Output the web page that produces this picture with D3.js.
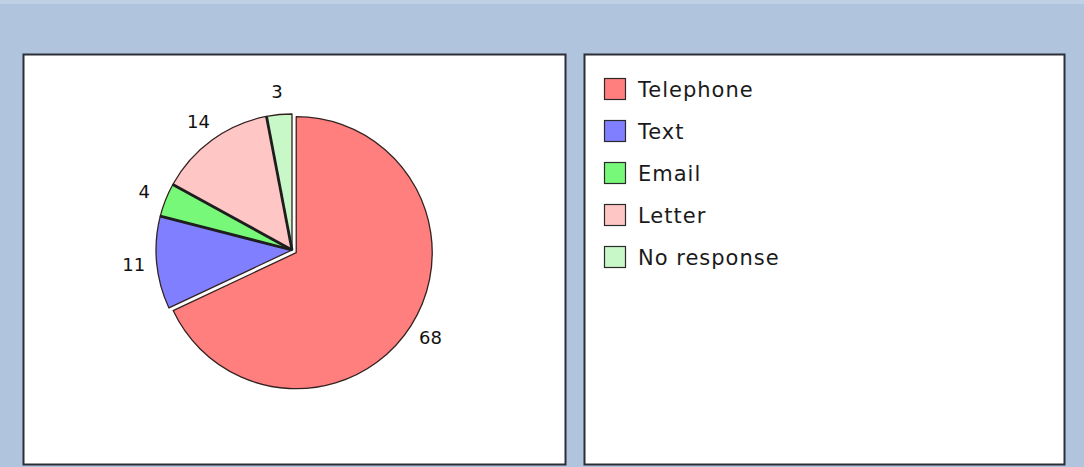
<!DOCTYPE html>
<html>
<head>
<meta charset="utf-8">
<script src="https://cdn.jsdelivr.net/npm/d3@7"></script>
<style>
  html, body { margin: 0; padding: 0; background: #b0c4de; }
  svg { display: block; }
</style>
</head>
<body>
<svg id="chart" width="1084" height="467"></svg>
<script>
// Survey: preferred contact method
const categories = ["Telephone", "Text", "Email", "Letter", "No response"];
const values = [68, 11, 4, 14, 3];
const colors = ["#ff7f7f", "#7f7fff", "#78f878", "#ffc6c6", "#c8f8c8"];
const explode = [5, 0, 0, 0, 0];

const W = 1084, H = 467;
const svg = d3.select("#chart");

// backdrop
svg.append("rect").attr("width", W).attr("height", H).attr("fill", "#b0c4de");
svg.append("rect").attr("width", W).attr("height", 4).attr("fill", "#c0d0e5");

// two framed panels
const panels = [
  { x: 23.5, y: 54.5, w: 542, h: 410 },
  { x: 584.5, y: 54.5, w: 480, h: 410 }
];
svg.selectAll("rect.panel").data(panels).join("rect")
  .attr("class", "panel")
  .attr("x", d => d.x).attr("y", d => d.y)
  .attr("width", d => d.w).attr("height", d => d.h)
  .attr("fill", "#ffffff")
  .attr("stroke", "#2a2f36").attr("stroke-width", 2);

// pie
const cx = 292, cy = 250, R = 136, labelR = 159;
const pie = d3.pie().sort(null).value(d => d.value);
const arcs = pie(categories.map((c, i) => ({ name: c, value: values[i], color: colors[i], explode: explode[i] })));
const arc = d3.arc().innerRadius(0).outerRadius(R);
const labelArc = d3.arc().innerRadius(labelR).outerRadius(labelR);

function offset(d) {
  const mid = (d.startAngle + d.endAngle) / 2;
  return [Math.sin(mid) * d.data.explode, -Math.cos(mid) * d.data.explode];
}

const g = svg.append("g").attr("transform", `translate(${cx},${cy})`);

const slices = g.selectAll("g.slice").data(arcs).join("g")
  .attr("class", "slice")
  .attr("transform", d => { const o = offset(d); return `translate(${o[0]},${o[1]})`; });

slices.append("path")
  .attr("d", arc)
  .attr("fill", d => d.data.color)
  .attr("stroke", "#33221f")
  .attr("stroke-width", 1.3)
  .attr("stroke-linejoin", "round");

// heavier radial separators between the unexploded slices
const joined = arcs.filter(d => d.data.explode === 0);
g.selectAll("line.sep").data(joined.slice(1)).join("line")
  .attr("class", "sep")
  .attr("x1", 0).attr("y1", 0)
  .attr("x2", d => Math.sin(d.startAngle) * R)
  .attr("y2", d => -Math.cos(d.startAngle) * R)
  .attr("stroke", "#1e1e1e")
  .attr("stroke-width", 2.8);

// value labels
slices.append("text")
  .attr("transform", d => { const c = labelArc.centroid(d); return `translate(${c[0]},${c[1]})`; })
  .attr("text-anchor", "middle")
  .attr("dominant-baseline", "central")
  .attr("font-family", "DejaVu Sans, sans-serif")
  .attr("font-size", 18)
  .attr("fill", "#111")
  .text(d => d.data.value);

// legend
const legend = svg.append("g").attr("transform", "translate(604,78)");
const row = legend.selectAll("g").data(categories).join("g")
  .attr("transform", (d, i) => `translate(0,${i * 42})`);
row.append("rect")
  .attr("x", 0.5).attr("y", 0.5).attr("width", 21).attr("height", 21)
  .attr("fill", (d, i) => colors[i])
  .attr("stroke", "#2a2a2a").attr("stroke-width", 1.2);
row.append("text")
  .attr("x", 34).attr("y", 11.5)
  .attr("dominant-baseline", "central")
  .attr("font-family", "DejaVu Sans, sans-serif")
  .attr("font-size", 21)
  .attr("letter-spacing", 1)
  .attr("fill", "#1a1a1a")
  .text(d => d);
</script>
</body>
</html>
